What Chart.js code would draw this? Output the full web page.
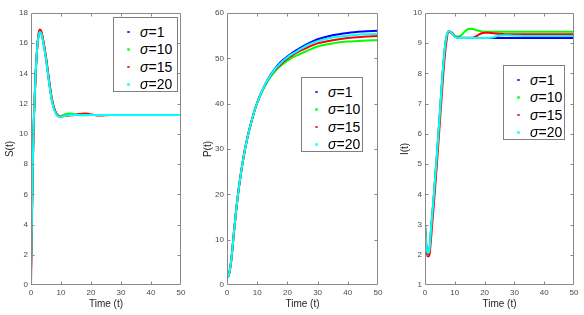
<!DOCTYPE html>
<html><head><meta charset="utf-8">
<script src="https://cdn.jsdelivr.net/npm/chart.js@4/dist/chart.umd.min.js"></script>
<style>
html,body{margin:0;padding:0;background:#fff;width:584px;height:315px;overflow:hidden;position:relative;}
canvas{position:absolute;top:0;}
.legend{position:absolute;background:#fff;border:1px solid #7f7f7f;box-sizing:border-box;font-family:"Liberation Sans",Arial,sans-serif;font-size:14px;color:#000;z-index:2;}
.legend .row{position:absolute;left:0;right:0;height:18px;line-height:18px;white-space:nowrap;}
.legend .dot{position:absolute;left:13px;top:8px;width:2.5px;height:2.5px;border-radius:50%;opacity:0.8;}
.legend .txt{position:absolute;left:26px;top:0;}
</style></head><body>
<canvas id="c1" width="195" height="315" style="left:0px"></canvas>
<canvas id="c2" width="195" height="315" style="left:195px"></canvas>
<canvas id="c3" width="194" height="315" style="left:390px"></canvas>
<script>
// ---- data ----
const T = [0, 0.25, 0.5, 0.75, 1, 1.5, 2, 2.5, 3, 3.5, 4, 5, 6, 7, 8, 9, 10, 11, 12, 13, 14, 15, 16, 17, 18, 19, 20, 21, 22, 23, 24, 25, 27, 30, 35, 40, 45, 50];
const sigmaLabels = ['1', '10', '15', '20'];
const seriesColors = ['#0000ff', '#00ff00', '#ff0000', '#00ffff'];

// S(t)
const S_sigma1  = [1, 4, 7, 9.5, 11.3, 13.8, 15.5, 16.5, 16.8, 16.65, 16.2, 15.0, 13.5, 12.2, 11.5, 11.2, 11.15, 11.2, 11.24, 11.26, 11.27, 11.27, 11.26, 11.25, 11.25, 11.25, 11.25, 11.25, 11.25, 11.25, 11.25, 11.25, 11.25, 11.25, 11.25, 11.25, 11.25, 11.25];
const S_sigma10 = [1, 4, 7, 9.5, 11.3, 13.8, 15.5, 16.5, 16.8, 16.65, 16.2, 15.0, 13.5, 12.2, 11.5, 11.2, 11.17, 11.27, 11.33, 11.35, 11.32, 11.28, 11.25, 11.23, 11.23, 11.24, 11.25, 11.25, 11.25, 11.25, 11.25, 11.25, 11.25, 11.25, 11.25, 11.25, 11.25, 11.25];
const S_sigma15 = [0, 3.5, 6.6, 9.2, 11.1, 13.7, 15.5, 16.6, 16.9, 16.75, 16.3, 15.1, 13.6, 12.3, 11.55, 11.2, 11.15, 11.18, 11.2, 11.22, 11.24, 11.27, 11.31, 11.34, 11.35, 11.33, 11.29, 11.25, 11.22, 11.21, 11.22, 11.24, 11.25, 11.25, 11.25, 11.25, 11.25, 11.25];
const S_sigma20 = [1, 4, 7, 9.5, 11.3, 13.8, 15.5, 16.45, 16.75, 16.6, 16.15, 14.95, 13.45, 12.15, 11.45, 11.15, 11.13, 11.18, 11.22, 11.25, 11.25, 11.25, 11.25, 11.25, 11.25, 11.25, 11.25, 11.25, 11.25, 11.25, 11.25, 11.25, 11.25, 11.25, 11.25, 11.25, 11.25, 11.25];

// P(t)
const P_sigma1  = [2, 1.9, 2.0, 2.6, 3.5, 6, 9.5, 13, 16.3, 19.2, 21.8, 26.3, 30.1, 33.2, 35.8, 38.2, 40.2, 41.9, 43.4, 44.7, 45.9, 46.9, 47.8, 48.6, 49.3, 49.9, 50.4, 50.9, 51.4, 51.8, 52.2, 52.6, 53.3, 54.2, 55.1, 55.6, 55.9, 56.1];
const P_sigma10 = [2, 1.9, 2.0, 2.6, 3.5, 6, 9.5, 13, 16.3, 19.2, 21.8, 26.3, 30.1, 33.2, 35.8, 38.2, 40.2, 41.8, 43.2, 44.4, 45.5, 46.4, 47.2, 47.9, 48.5, 49.0, 49.5, 49.9, 50.3, 50.6, 50.9, 51.2, 51.8, 52.6, 53.3, 53.7, 53.9, 54.0];
const P_sigma15 = [2, 1.9, 2.0, 2.6, 3.5, 6, 9.5, 13, 16.3, 19.2, 21.8, 26.3, 30.1, 33.2, 35.8, 38.2, 40.2, 41.9, 43.3, 44.6, 45.7, 46.7, 47.5, 48.2, 48.8, 49.4, 49.9, 50.4, 50.8, 51.2, 51.6, 51.9, 52.5, 53.3, 54.0, 54.5, 54.75, 54.9];
const P_sigma20 = [2, 1.9, 2.0, 2.6, 3.5, 6, 9.5, 13, 16.3, 19.2, 21.8, 26.3, 30.1, 33.2, 35.8, 38.2, 40.2, 41.9, 43.4, 44.7, 45.8, 46.8, 47.7, 48.4, 49.1, 49.7, 50.2, 50.7, 51.1, 51.5, 51.9, 52.3, 53.0, 53.8, 54.6, 55.0, 55.3, 55.4];

// I(t)
const I_sigma1  = [3.0, 2.55, 2.25, 2.08, 2.03, 2.15, 2.8, 3.4, 4.0, 4.65, 5.3, 6.7, 8.1, 9.1, 9.4, 9.33, 9.22, 9.18, 9.17, 9.17, 9.17, 9.17, 9.17, 9.17, 9.17, 9.17, 9.17, 9.17, 9.17, 9.17, 9.17, 9.17, 9.17, 9.17, 9.17, 9.17, 9.17, 9.17];
const I_sigma10 = [3.0, 2.55, 2.25, 2.08, 2.03, 2.15, 2.8, 3.4, 4.0, 4.65, 5.3, 6.7, 8.1, 9.1, 9.4, 9.33, 9.23, 9.22, 9.25, 9.35, 9.44, 9.48, 9.47, 9.44, 9.41, 9.39, 9.38, 9.38, 9.38, 9.38, 9.38, 9.38, 9.38, 9.38, 9.38, 9.38, 9.38, 9.38];
const I_sigma15 = [3.0, 2.5, 2.2, 2.0, 1.94, 2.0, 2.5, 3.1, 3.7, 4.35, 5.0, 6.4, 7.8, 8.9, 9.38, 9.35, 9.24, 9.19, 9.18, 9.18, 9.18, 9.18, 9.18, 9.22, 9.28, 9.33, 9.35, 9.35, 9.34, 9.33, 9.32, 9.31, 9.3, 9.3, 9.3, 9.3, 9.3, 9.3];
const I_sigma20 = [3.0, 2.55, 2.27, 2.1, 2.06, 2.17, 2.8, 3.4, 4.0, 4.65, 5.3, 6.7, 8.1, 9.1, 9.4, 9.33, 9.22, 9.18, 9.17, 9.17, 9.17, 9.17, 9.17, 9.17, 9.17, 9.17, 9.17, 9.17, 9.18, 9.2, 9.23, 9.25, 9.26, 9.25, 9.24, 9.24, 9.24, 9.24];

const xTicksStep = 10;
const S_ticksStep = 2, P_ticksStep = 10, I_ticksStep = 1;

// ---- drawing ----
const FONT = '"Liberation Sans", Arial, sans-serif';
const AX = '#8a8a8a';

const boxPlugin = {
  id: 'matlabBox',
  afterDatasetsDraw(chart) {
    const {ctx, chartArea: a, scales: {x, y}} = chart;
    ctx.save();
    ctx.strokeStyle = AX;
    ctx.lineWidth = 1;
    ctx.beginPath();
    const L = Math.round(a.left) + 0.5, R = Math.round(a.right) - 0.5;
    const Tp = Math.round(a.top) + 0.5, B = Math.round(a.bottom) - 0.5;
    ctx.rect(L, Tp, R - L, B - Tp);
    x.ticks.forEach(t => {
      const px = Math.round(x.getPixelForValue(t.value)) + 0.5;
      if (px <= L + 1 || px >= R - 1) return;
      ctx.moveTo(px, B); ctx.lineTo(px, B - 3);
      ctx.moveTo(px, Tp); ctx.lineTo(px, Tp + 3);
    });
    y.ticks.forEach(t => {
      const py = Math.round(y.getPixelForValue(t.value)) + 0.5;
      if (py <= Tp + 1 || py >= B - 1) return;
      ctx.moveTo(L, py); ctx.lineTo(L + 3, py);
      ctx.moveTo(R, py); ctx.lineTo(R - 3, py);
    });
    ctx.stroke();
    ctx.restore();
  }
};

function makeChart(id, series, yMin, yMax, yStep, yTitle, yWidth, yTitlePad, padRight) {
  const datasets = series.map((vals, i) => ({
    label: '\u03c3=' + sigmaLabels[i],
    data: T.map((t, k) => ({x: t, y: vals[k]})),
    borderColor: seriesColors[i],
    backgroundColor: seriesColors[i],
    borderWidth: 2,
    pointRadius: 0,
    fill: false,
    order: series.length - i,
    cubicInterpolationMode: 'monotone'
  }));
  return new Chart(document.getElementById(id), {
    type: 'line',
    data: {datasets},
    plugins: [boxPlugin],
    options: {
      responsive: false,
      animation: false,
      devicePixelRatio: 1,
      layout: {padding: {top: 13, right: padRight, left: 0, bottom: 0}},
      plugins: {legend: {display: false}, tooltip: {enabled: false}},
      scales: {
        x: {
          type: 'linear', min: 0, max: 50,
          afterFit(s) { s.height = 30; },
          ticks: {stepSize: xTicksStep, font: {size: 8, family: FONT}, color: '#4a4a4a', padding: 3, maxRotation: 0, autoSkip: false},
          grid: {display: false, drawTicks: false}, border: {display: false},
          title: {display: true, text: 'Time (t)', font: {size: 10, family: FONT}, color: '#262626', padding: {top: 0, bottom: 5}}
        },
        y: {
          type: 'linear', min: yMin, max: yMax,
          afterFit(s) { s.width = yWidth; },
          ticks: {stepSize: yStep, font: {size: 8, family: FONT}, color: '#4a4a4a', padding: 3, autoSkip: false},
          grid: {display: false, drawTicks: false}, border: {display: false},
          title: {display: true, text: yTitle, font: {size: 10, family: FONT}, color: '#262626', padding: {top: yTitlePad, bottom: 0}}
        }
      }
    }
  });
}

makeChart('c1', [S_sigma1, S_sigma10, S_sigma15, S_sigma20], 0, 18, S_ticksStep, 'S(t)', 31, 4, 14);
makeChart('c2', [P_sigma1, P_sigma10, P_sigma15, P_sigma20], 0, 60, P_ticksStep, 'P(t)', 32, 7, 12);
makeChart('c3', [I_sigma1, I_sigma10, I_sigma15, I_sigma20], 1, 10, I_ticksStep, 'I(t)', 35, 9, 10);

// ---- legends (HTML, built from the series arrays) ----
function makeLegend(left, top, width, height) {
  const box = document.createElement('div');
  box.className = 'legend';
  Object.assign(box.style, {left: left + 'px', top: top + 'px', width: width + 'px', height: height + 'px'});
  sigmaLabels.forEach((lab, i) => {
    const row = document.createElement('div');
    row.className = 'row';
    row.style.top = (4.5 + i * 17.5) + 'px';
    const dot = document.createElement('span');
    dot.className = 'dot';
    dot.style.background = seriesColors[i];
    const txt = document.createElement('span');
    txt.className = 'txt';
    txt.innerHTML = '<i>\u03c3</i>=' + lab;
    row.appendChild(dot); row.appendChild(txt);
    box.appendChild(row);
  });
  document.body.appendChild(box);
}
makeLegend(113, 17, 65, 75);
makeLegend(301, 77, 62, 75);
makeLegend(503, 65, 62, 75);
</script>
</body></html>
